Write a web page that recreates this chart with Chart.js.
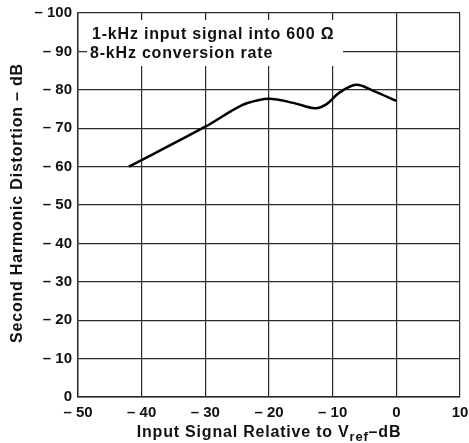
<!DOCTYPE html>
<html>
<head>
<meta charset="utf-8">
<script src="https://cdn.jsdelivr.net/npm/chart.js@4.4.1/dist/chart.umd.min.js"></script>
<style>
  html, body { margin: 0; padding: 0; background: #fff; }
  canvas { display: block; }
</style>
</head>
<body>
<canvas id="chart" width="469" height="443"></canvas>
<script>
// input level (dB rel. Vref) and 2nd harmonic distortion (dB)
const inputLevel = [-42, -30, -26, -23.5, -20, -16.2, -12.8, -11, -9, -6.3, -3.7, 0];
const distortion = [-60, -70.4, -74.4, -76.5, -77.7, -76.6, -75.2, -76.2, -79.2, -81.3, -79.8, -77.1];
const xTicks = [-50, -40, -30, -20, -10, 0, 10];
const yTicks = [-100, -90, -80, -70, -60, -50, -40, -30, -20, -10, 0];
const noteLines = ['1-kHz input signal into 600 \u03A9', '8-kHz conversion rate'];

const FONT = '"Liberation Sans", Arial, Helvetica, sans-serif';
const INK = '#111';
const GRID = '#2a2a2a';

const fmtTick = v => v < 0 ? '\u2013 ' + Math.abs(v) : String(v);

// note box + axis titles (x title needs a subscript, so drawn by hand)
const extrasPlugin = {
    id: 'extras',
    afterDraw(chart) {
        const ctx = chart.ctx;
        const a = chart.chartArea;
        ctx.save();
        // white box behind the note, hides the grid like the original
        ctx.fillStyle = '#fff';
        ctx.fillRect(a.left + 9, a.top + 7, 256, 46);
        ctx.fillStyle = INK;
        ctx.font = 'bold 16px ' + FONT;
        ctx.letterSpacing = '0.8px';
        ctx.textBaseline = 'alphabetic';
        ctx.textAlign = 'left';
        ctx.fillText(noteLines[0], a.left + 14, a.top + 26);
        ctx.fillText(noteLines[1], a.left + 12, a.top + 45);

        // y title
        ctx.save();
        ctx.translate(18, 203);
        ctx.rotate(-Math.PI / 2);
        ctx.textAlign = 'center';
        ctx.textBaseline = 'middle';
        ctx.font = 'bold 16px ' + FONT;
        ctx.letterSpacing = '0.8px';
        ctx.fillText('Second Harmonic Distortion \u2013 dB', 0, 0);
        ctx.restore();

        // x title with subscript
        const parts = [
            { t: 'Input Signal Relative to V', f: 'bold 16px ' + FONT, dy: 0 },
            { t: 'ref', f: 'bold 13px ' + FONT, dy: 4 },
            { t: '\u2013dB', f: 'bold 16px ' + FONT, dy: 0 }
        ];
        ctx.letterSpacing = '0.8px';
        let total = 0;
        parts.forEach(p => { ctx.font = p.f; p.w = ctx.measureText(p.t).width; total += p.w; });
        let x = 269 - total / 2;
        const base = 437;
        ctx.textAlign = 'left';
        ctx.textBaseline = 'alphabetic';
        parts.forEach(p => {
            ctx.font = p.f;
            ctx.fillText(p.t, x, base + p.dy);
            x += p.w;
        });
        ctx.restore();
    }
};

new Chart(document.getElementById('chart'), {
    type: 'line',
    data: {
        datasets: [{
            data: inputLevel.map((x, i) => ({ x: x, y: distortion[i] })),
            borderColor: '#000',
            borderWidth: 2.5,
            pointRadius: 0,
            fill: false,
            tension: 0.35
        }]
    },
    options: {
        responsive: false,
        animation: false,
        layout: { padding: { top: 13, right: 9, left: 0, bottom: 0 } },
        plugins: { legend: { display: false }, tooltip: { enabled: false } },
        scales: {
            x: {
                type: 'linear',
                min: xTicks[0],
                max: xTicks[xTicks.length - 1],
                afterBuildTicks: s => { s.ticks = xTicks.map(v => ({ value: v })); },
                afterFit: s => { s.height = 46; s.paddingLeft = 0; s.paddingRight = 0; },
                grid: { color: GRID, lineWidth: 1.2, drawTicks: false },
                border: { color: GRID, width: 1.4 },
                ticks: {
                    padding: 7,
                    color: INK,
                    maxRotation: 0,
                    autoSkip: false,
                    font: { family: FONT, size: 15, weight: 'bold' },
                    callback: fmtTick
                }
            },
            y: {
                type: 'linear',
                reverse: true,
                min: yTicks[0],
                max: yTicks[yTicks.length - 1],
                afterBuildTicks: s => { s.ticks = yTicks.map(v => ({ value: v })); },
                afterFit: s => { s.width = 78; s.paddingTop = 0; s.paddingBottom = 0; },
                grid: { color: GRID, lineWidth: 1.2, drawTicks: false },
                border: { color: GRID, width: 1.4 },
                ticks: {
                    padding: 6,
                    color: INK,
                    autoSkip: false,
                    font: { family: FONT, size: 15, weight: 'bold' },
                    callback: fmtTick
                }
            }
        }
    },
    plugins: [extrasPlugin]
});
</script>
</body>
</html>
